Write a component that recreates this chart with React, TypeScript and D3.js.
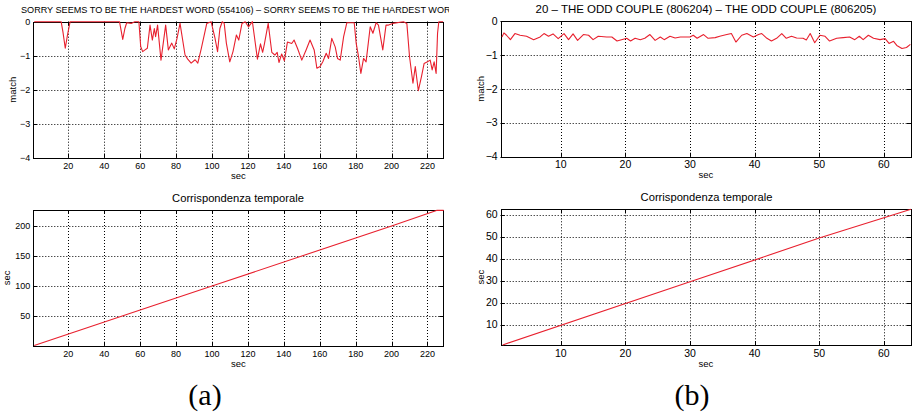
import * as d3 from "d3";
import React, { useEffect, useRef } from "react";

// (a) match curve, [sec, match] read at the turning points of the trace
const matchA: [number, number][] = [
  [1, 0], [16, 0], [17, -0.3], [18.3, -0.78], [19.5, -0.4], [21, 0], [48.5, 0], [50.3, -0.52],
  [51.5, -0.2], [52.5, -0.03], [55, -0.05], [57, 0], [59.3, 0], [60.3, -0.73], [61.4, -0.88],
  [62.7, -0.83], [64, -0.78], [65.5, -0.1], [66.8, -0.54], [67.9, -0.2], [68.6, -0.44], [69.7, -0.1],
  [71.6, -1.13], [74.2, -0.1], [75.7, -0.83], [77.6, -0.63], [79, -0.8], [80.5, -0.5], [82.2, -0.05],
  [85, -0.98], [86.5, -1.1], [88.4, -1.22], [90.6, -1.12], [92.1, -1.22], [94, -0.8], [97.1, -0.05],
  [99.5, 0], [101.7, -0.49], [103.1, -0.88], [104.4, -0.2], [105.7, 0], [106.8, -0.05], [108, -0.63],
  [109.9, -1.18], [111.7, -0.88], [113.6, -0.39], [114.9, -0.54], [116.7, -0.05], [118.5, 0],
  [120.3, -0.15], [122.5, 0], [125.3, -1.1], [127, -0.65], [128.2, -0.9], [129.2, -0.65], [131.3, -0.05],
  [133.3, -0.9], [135, -0.98], [136.3, -0.9], [137.3, -1.2], [138.8, -0.95], [140.3, -1.15], [142, -0.6],
  [144.4, -0.64], [145.7, -0.54], [147.6, -0.78], [150, -1.13], [152.4, -0.83], [154.6, -0.54],
  [156.9, -0.83], [158.4, -1.37], [160.2, -1.32], [161.7, -1.18], [163.6, -0.93], [164.9, -1.08],
  [166.7, -0.49], [168.6, -0.74], [169.9, -1.08], [171.4, -1.13], [173.3, -0.44], [175.1, -0.03],
  [179.2, -0.03], [180.3, -0.64], [181.6, -1.03], [182.9, -1.52], [184.4, -1.08], [185.8, -1.18],
  [188.1, -0.15], [189.6, -0.34], [191.4, -0.03], [192.7, -0.1], [195.1, -0.83], [196.9, -0.1],
  [198.3, -0.1], [200.7, -0.05], [206.6, 0], [208.5, -0.05], [210, -1.03], [211.9, -1.81],
  [213.2, -1.32], [214.9, -2.03], [216.7, -1.6], [218.1, -1.23], [220, -1.18], [221.5, -1.13],
  [222.6, -1.42], [223.7, -1.18], [224.8, -1.52], [225.6, -0.34], [226.3, 0], [228.7, 0],
];

// (b) match curve
const matchB: [number, number][] = [
  [0.9, -0.47], [1.2, -0.35], [1.6, -0.42], [2.2, -0.55], [2.9, -0.37], [3.7, -0.42], [4.7, -0.45],
  [5.8, -0.55], [6.8, -0.47], [7.4, -0.37], [8.1, -0.45], [8.8, -0.38], [9.6, -0.52], [10.5, -0.37],
  [11.2, -0.55], [11.9, -0.38], [12.6, -0.57], [13.5, -0.4], [14.3, -0.42], [15, -0.55], [15.8, -0.45],
  [17.1, -0.47], [17.9, -0.47], [18.7, -0.59], [19.4, -0.55], [20.2, -0.51], [20.8, -0.59],
  [21.5, -0.51], [22.3, -0.55], [23, -0.51], [23.8, -0.4], [24.6, -0.57], [25.4, -0.47], [26, -0.55],
  [26.9, -0.45], [27.7, -0.5], [28.5, -0.47], [30, -0.47], [30.5, -0.42], [31.1, -0.51], [32.1, -0.4],
  [32.8, -0.51], [33.9, -0.49], [34.6, -0.45], [35.7, -0.4], [36.4, -0.37], [37.1, -0.62], [38, -0.42],
  [38.8, -0.37], [39.8, -0.47], [40.6, -0.4], [41.1, -0.37], [41.9, -0.51], [42.6, -0.59],
  [43.4, -0.51], [44.2, -0.37], [44.9, -0.51], [45.7, -0.45], [46.5, -0.5], [47.5, -0.51], [48, -0.56],
  [48.6, -0.37], [49.3, -0.64], [50.1, -0.42], [50.9, -0.45], [51.6, -0.59], [52.7, -0.51],
  [53.7, -0.49], [54.7, -0.47], [55.5, -0.55], [56.2, -0.45], [56.8, -0.55], [57.6, -0.42],
  [58.4, -0.51], [59.4, -0.55], [60.2, -0.52], [60.8, -0.66], [61.5, -0.6], [62, -0.72], [62.8, -0.81],
  [63.5, -0.78], [64.1, -0.69],
];

// temporal correspondence (sec vs sec)
const corrA: [number, number][] = [[1, 1], [50, 50], [100, 100], [150, 150], [200, 200], [225, 226], [229, 226]];
const corrB: [number, number][] = [[1, 0.8], [30, 29.5], [50, 49.4], [64.2, 62.5]];

const matchTicks = [0, -1, -2, -3, -4];
const secTicksA = [20, 40, 60, 80, 100, 120, 140, 160, 180, 200, 220];
const secTicksB = [10, 20, 30, 40, 50, 60];
const corrTicksA = [50, 100, 150, 200];
const corrTicksB = [10, 20, 30, 40, 50, 60];

const titleA = "SORRY SEEMS TO BE THE HARDEST WORD (554106) \u2013 SORRY SEEMS TO BE THE HARDEST WORD (554106)";
const titleB = "20 \u2013 THE ODD COUPLE (806204) \u2013 THE ODD COUPLE (806205)";
const corrTitle = "Corrispondenza temporale";

const FONT = "'Liberation Sans', Arial, Helvetica, sans-serif";
const RED = "#e8202e";

const fmt = (v: number) => (v < 0 ? "\u2212" + Math.abs(v) : String(v));

type PanelOpts = {
  box: [number, number, number, number]; // left, right, top, bottom
  xDomain: [number, number];
  yDomain: [number, number];
  xTicks: number[];
  yTicks: number[];
  data: [number, number][];
  fs: number;
  title: string;
  titleX: number;
  titleY: number;
  titleFs: number;
  titleAnchor: string;
  titleClip?: number;
  yLabel: string;
  yLabelX: number;
};

let clipId = 0;

function drawPanel(svg: d3.Selection<SVGSVGElement, unknown, null, undefined>, o: PanelOpts) {
  const [x0, x1, y0, y1] = o.box;
  const x = d3.scaleLinear().domain(o.xDomain).range([x0, x1]);
  const y = d3.scaleLinear().domain(o.yDomain).range([y1, y0]);
  const g = svg.append("g");
  const px = (v: number) => Math.round(v) + 0.5;

  // dotted grid
  o.xTicks.forEach((t) => {
    g.append("line")
      .attr("x1", px(x(t))).attr("x2", px(x(t)))
      .attr("y1", y0).attr("y2", y1)
      .attr("stroke", "#000").attr("stroke-dasharray", "1,2");
  });
  o.yTicks.forEach((t) => {
    g.append("line")
      .attr("x1", x0).attr("x2", x1)
      .attr("y1", px(y(t))).attr("y2", px(y(t)))
      .attr("stroke", "#000").attr("stroke-dasharray", "1,2");
  });

  // box
  g.append("rect")
    .attr("x", px(x0)).attr("y", px(y0))
    .attr("width", Math.round(x1) - Math.round(x0))
    .attr("height", Math.round(y1) - Math.round(y0))
    .attr("fill", "none").attr("stroke", "#000");

  // inward ticks on all sides
  const tl = 4;
  o.xTicks.forEach((t) => {
    const xx = px(x(t));
    g.append("line").attr("x1", xx).attr("x2", xx).attr("y1", y1).attr("y2", y1 - tl).attr("stroke", "#000");
    g.append("line").attr("x1", xx).attr("x2", xx).attr("y1", y0).attr("y2", y0 + tl).attr("stroke", "#000");
    g.append("text")
      .attr("x", x(t)).attr("y", y1 + 11.5)
      .attr("text-anchor", "middle")
      .attr("font-size", o.fs).attr("font-family", FONT)
      .text(fmt(t));
  });
  o.yTicks.forEach((t) => {
    const yy = px(y(t));
    g.append("line").attr("x1", x0).attr("x2", x0 + tl).attr("y1", yy).attr("y2", yy).attr("stroke", "#000");
    g.append("line").attr("x1", x1).attr("x2", x1 - tl).attr("y1", yy).attr("y2", yy).attr("stroke", "#000");
    g.append("text")
      .attr("x", x0 - 3).attr("y", y(t) + o.fs * 0.35)
      .attr("text-anchor", "end")
      .attr("font-size", o.fs).attr("font-family", FONT)
      .text(fmt(t));
  });

  // axis labels
  g.append("text")
    .attr("x", (x0 + x1) / 2).attr("y", y1 + 21.5)
    .attr("text-anchor", "middle")
    .attr("font-size", 9.5).attr("font-family", FONT)
    .text("sec");
  g.append("text")
    .attr("transform", `translate(${o.yLabelX},${(y0 + y1) / 2}) rotate(-90)`)
    .attr("text-anchor", "middle")
    .attr("font-size", 9.5).attr("font-family", FONT)
    .text(o.yLabel);

  // title
  const title = g.append("text")
    .attr("x", o.titleX).attr("y", o.titleY)
    .attr("text-anchor", o.titleAnchor)
    .attr("font-size", o.titleFs).attr("font-family", FONT)
    .text(o.title);
  if (o.titleClip) {
    const id = `tclip${clipId++}`;
    svg.append("clipPath").attr("id", id)
      .append("rect").attr("x", 0).attr("y", 0).attr("width", o.titleClip).attr("height", 30);
    title.attr("clip-path", `url(#${id})`);
  }

  // curve
  const line = d3.line<[number, number]>().x((d) => x(d[0])).y((d) => y(d[1]));
  g.append("path")
    .attr("d", line(o.data))
    .attr("fill", "none")
    .attr("stroke", RED)
    .attr("stroke-width", 1.1)
    .attr("stroke-linejoin", "round");
}

const App = () => {
  const svgRef = useRef<SVGSVGElement>(null);

  useEffect(() => {
    const svg = d3.select(svgRef.current!);
    svg.selectAll("*").remove();

    drawPanel(svg, {
      box: [33.3, 443.3, 21.7, 157.7],
      xDomain: [0.5, 228.8], yDomain: [-4, 0],
      xTicks: secTicksA, yTicks: matchTicks, data: matchA, fs: 9,
      title: titleA, titleX: 21, titleY: 12.5, titleFs: 9.1, titleAnchor: "start", titleClip: 449,
      yLabel: "match", yLabelX: 16,
    });
    drawPanel(svg, {
      box: [500.7, 911, 21, 156.7],
      xDomain: [0.7, 64.2], yDomain: [-4, 0],
      xTicks: secTicksB, yTicks: matchTicks, data: matchB, fs: 10.5,
      title: titleB, titleX: 706, titleY: 13, titleFs: 11.5, titleAnchor: "middle",
      yLabel: "match", yLabelX: 484,
    });
    drawPanel(svg, {
      box: [33.3, 443.3, 210, 345.7],
      xDomain: [0.5, 228.8], yDomain: [0.5, 226.7],
      xTicks: secTicksA, yTicks: corrTicksA, data: corrA, fs: 9,
      title: corrTitle, titleX: 238, titleY: 201.5, titleFs: 11.2, titleAnchor: "middle",
      yLabel: "sec", yLabelX: 10,
    });
    drawPanel(svg, {
      box: [500.7, 911, 209.3, 345],
      xDomain: [0.7, 64.2], yDomain: [0.77, 62.5],
      xTicks: secTicksB, yTicks: corrTicksB, data: corrB, fs: 10.5,
      title: corrTitle, titleX: 706.5, titleY: 201, titleFs: 11.2, titleAnchor: "middle",
      yLabel: "sec", yLabelX: 483.5,
    });

    // sub-figure captions
    [["(a)", 205], ["(b)", 692]].forEach(([t, cx]) => {
      svg.append("text")
        .attr("x", cx as number).attr("y", 405)
        .attr("text-anchor", "middle")
        .attr("font-size", 30)
        .attr("font-family", "'Liberation Serif', 'Times New Roman', serif")
        .text(t as string);
    });
  }, []);

  return (
    <svg
      ref={svgRef}
      width={912}
      height={414}
      style={{ position: "absolute", left: 0, top: 0, background: "#fff" }}
    />
  );
};

export default App;
